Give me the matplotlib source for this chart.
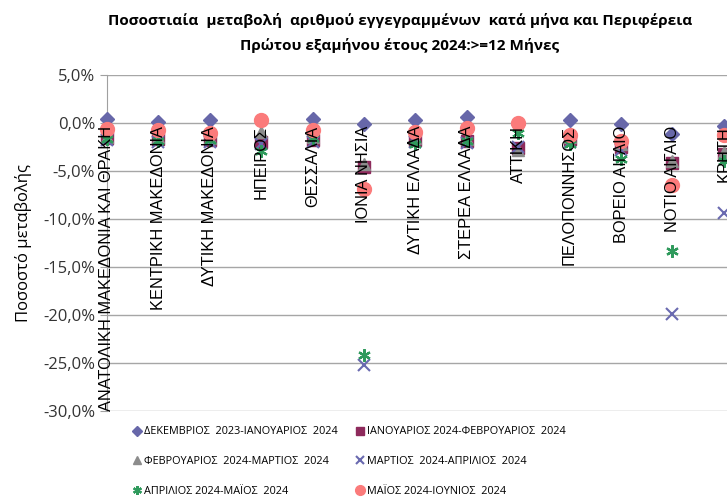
import numpy as np
import matplotlib
matplotlib.use('Agg')
import matplotlib.pyplot as plt
from matplotlib.ticker import FuncFormatter

# Regions (x categories)
regions = ['ΑΝΑΤΟΛΙΚΗ ΜΑΚΕΔΟΝΙΑ ΚΑΙ ΘΡΑΚΗ', 'ΚΕΝΤΡΙΚΗ ΜΑΚΕΔΟΝΙΑ', 'ΔΥΤΙΚΗ ΜΑΚΕΔΟΝΙΑ',
           'ΗΠΕΙΡΟΣ', 'ΘΕΣΣΑΛΙΑ', 'ΙΟΝΙΑ ΝΗΣΙΑ', 'ΔΥΤΙΚΗ ΕΛΛΑΔΑ', 'ΣΤΕΡΕΑ ΕΛΛΑΔΑ',
           'ΑΤΤΙΚΗ', 'ΠΕΛΟΠΟΝΝΗΣΟΣ', 'ΒΟΡΕΙΟ ΑΙΓΑΙΟ', 'ΝΟΤΙΟ ΑΙΓΑΙΟ', 'ΚΡΗΤΗ']

# Percentage change per period (%)
dec_jan = [0.4, 0.1, 0.3, 0.3, 0.4, -0.1, 0.3, 0.6, -0.1, 0.3, -0.1, -1.1, -0.3]
jan_feb = [-1.6, -1.7, -1.8, -2.0, -1.8, -4.6, -1.8, -1.9, -2.6, -1.7, -2.5, -4.2, -3.2]
feb_mar = [-1.5, -1.5, -1.6, -0.9, -1.5, -4.3, -1.6, -1.7, -2.8, -1.5, -2.2, -4.0, -3.0]
mar_apr = [-1.8, -2.0, -2.0, -2.2, -2.0, -25.2, -2.0, -2.1, -2.5, -2.0, -2.8, -19.9, -9.4]
apr_may = [-1.7, -1.9, -1.8, -2.9, -1.6, -24.2, -2.2, -1.9, -1.0, -2.2, -3.8, -13.3, -4.0]
may_jun = [-0.6, -0.7, -1.0, 0.35, -0.7, -6.9, -0.9, -0.5, -0.05, -1.2, -1.9, -6.5, -1.3]

series_names = ['ΔΕΚΕΜΒΡΙΟΣ  2023-ΙΑΝΟΥΑΡΙΟΣ  2024', 'ΙΑΝΟΥΑΡΙΟΣ 2024-ΦΕΒΡΟΥΑΡΙΟΣ  2024',
                'ΦΕΒΡΟΥΑΡΙΟΣ  2024-ΜΑΡΤΙΟΣ  2024', 'ΜΑΡΤΙΟΣ  2024-ΑΠΡΙΛΙΟΣ  2024',
                'ΑΠΡΙΛΙΟΣ 2024-ΜΑΪΟΣ  2024', 'ΜΑΪΟΣ 2024-ΙΟΥΝΙΟΣ  2024']

plt.rcParams['font.family'] = ['Open Sans', 'DejaVu Sans']

fig = plt.figure(figsize=(7.27, 4.98), dpi=100)
ax = fig.add_axes([107 / 727, 1 - 411 / 498, 620 / 727, 336 / 498])

x = np.arange(len(regions))
styles = [
    dict(marker='D', color='#6767a9', ms=7),
    dict(marker='s', color='#8e2a5c', ms=8),
    dict(marker='^', color='#8c8c8c', ms=8),
    dict(marker='x', color='#6a6ab0', ms=8, mew=1.5),
    dict(marker=(6, 2, 0), color='#2f9a5c', ms=9, mew=1.6),
    dict(marker='o', color='#fb7b7b', ms=10),
]
data = [dec_jan, jan_feb, feb_mar, mar_apr, apr_may, may_jun]
handles = []
for vals, name, st in zip(data, series_names, styles):
    h, = ax.plot(x, vals, linestyle='none', marker=st['marker'], color=st['color'],
                 markersize=st['ms'], markeredgewidth=st.get('mew', 1.0),
                 label=name, clip_on=False, zorder=3)
    handles.append(h)

ax.set_xlim(0, 620 / 51.4)
ax.set_ylim(-30, 5)
ax.set_yticks(np.arange(-30, 5.1, 5))
ax.yaxis.set_major_formatter(FuncFormatter(lambda v, p: f'{v:.1f}%'.replace('.', ',')))
ax.tick_params(axis='y', labelsize=12, length=5, color='#a0a0a0', colors='#333333')
ax.set_xticks([])
ax.grid(axis='y', color='#a6a6a6', linewidth=1)
ax.set_axisbelow(True)
for s in ['top', 'right', 'bottom']:
    ax.spines[s].set_visible(False)
ax.spines['left'].set_color('#a0a0a0')

# category labels sit next to the 0% line, drawn over the markers
for xi, name in zip(x, regions):
    ax.text(xi, -0.3, name, rotation=90, ha='center', va='top', fontsize=11.8,
            family=['Liberation Sans', 'DejaVu Sans'], color='black', zorder=5, clip_on=False)

ax.set_ylabel('Ποσοστό μεταβολής', fontsize=12, labelpad=8)

fig.text(0.55, 0.958, 'Ποσοστιαία  μεταβολή  αριθμού εγγεγραμμένων  κατά μήνα και Περιφέρεια',
         ha='center', va='center', fontsize=11, fontweight='bold')
fig.text(0.55, 0.908, 'Πρώτου εξαμήνου έτους 2024:>=12 Μήνες',
         ha='center', va='center', fontsize=11, fontweight='bold')

# legend filled row by row, as in the reference
order = [0, 2, 4, 1, 3, 5]
fig.legend(handles=[handles[i] for i in order], loc='lower left', bbox_to_anchor=(0.168, -0.018),
           ncol=2, frameon=False, fontsize=7.8, handletextpad=0.1, handlelength=1.0,
           columnspacing=1.6, labelspacing=1.75, markerscale=0.7)

fig.savefig('out.png', dpi=100)
